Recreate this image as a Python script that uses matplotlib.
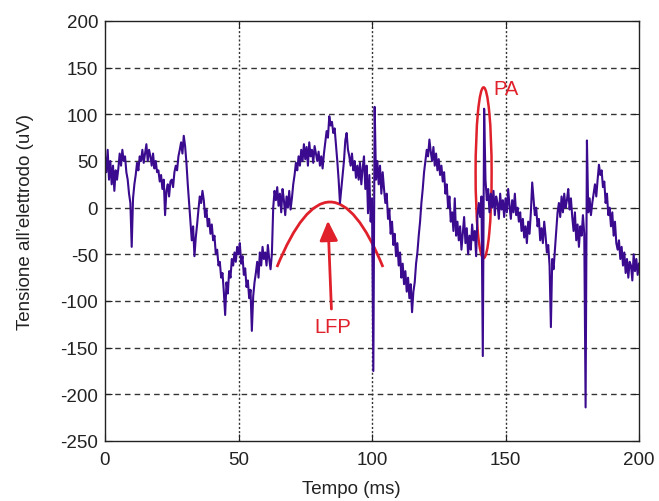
import matplotlib as mpl
mpl.use('Agg')
import numpy as np
import matplotlib.pyplot as plt
from matplotlib.path import Path
from matplotlib.patches import PathPatch, Ellipse

# signal, one row = 5 ms, samples every 0.5 ms
signal_uv = [
    55, 38, 62, 30, 50, 25, 45, 18, 40, 30,
    42, 58, 45, 62, 50, 55, 38, 30, 15, 5,
    -42, 10, 25, 35, 48, 40, 55, 50, 62, 48,
    58, 68, 50, 62, 55, 45, 58, 42, 50, 38,
    40, 28, 35, 20, 30, -8, 18, 25, 12, 28,
    30, 22, 38, 45, 40, 55, 62, 70, 58, 77,
    66, 48, 25, 5, -15, -35, -20, -52, -32, -18,
    -2, 12, 5, 18, 8, -10, -2, -20, -12, -28,
    -18, -35, -30, -50, -45, -62, -58, -75, -70, -90,
    -115, -80, -92, -68, -75, -55, -62, -48, -58, -42,
    -50, -38, -60, -52, -72, -65, -85, -78, -97, -88,
    -132, -95, -80, -70, -58, -75, -48, -62, -42, -55,
    -48, -62, -40, -55, -66, -50, 0, 18, 8, 22,
    2, 15, -5, 20, 8, -8, 12, 0, 18, -2,
    10, 25, 35, 48, 40, 55, 45, 62, 50, 68,
    52, 65, 45, 70, 55, 62, 48, 66, 58, 50,
    60, 45, 55, 42, 58, 70, 82, 75, 98, 88,
    92, 80, 85, 68, 50, 30, 5, 20, 35, 50,
    72, 80, 62, 55, 45, 58, 40, 50, 32, 45,
    30, 48, 25, 42, 55, 20, 45, -6, 35, -15,
    10, -175, 108, 30, 50, 25, 45, 15, 38, 20,
    5, 15, -12, -2, -28, -15, -40, -28, -52, -38,
    -62, -48, -75, -60, -82, -68, -90, -75, -97, -82,
    -112, -90, -80, -60, -48, -30, -15, 5, 20, 38,
    50, 62, 55, 73, 60, 50, 65, 45, 58, 40,
    52, 35, 45, 28, 38, 15, 25, 0, 12, -15,
    -5, -25, 10, -30, -15, -35, -20, -45, -28, -10,
    -38, -22, -50, -30, -45, -18, -35, -25, -52, -8,
    5, -10, 12, -159, 106, 30, 8, 20, -5, 15,
    0, 18, -8, 12, 5, -12, 15, -2, 8, -10,
    10, -5, 20, 2, -12, 8, -5, 15, -8, 0,
    -15, -5, -25, -12, -32, -20, -38, -15, -28, -5,
    27, 10, -8, 0, -20, -12, -35, -22, -38, -15,
    -30, -48, -40, -62, -128, -55, -66, -45, -25, -5,
    5, -10, 12, -5, 15, 0, 8, 20, -2, 10,
    -10, -25, -5, -35, -18, -42, -20, -30, -8, -28,
    -214, 72, -5, 10, -8, 5, 15, 25, 12, 30,
    46, 35, 40, 22, 28, 5, 15, -8, 0, -20,
    -5, -30, -15, -38, -45, -35, -55, -42, -62, -48,
    -70, -55, -75, -58, -62, -78, -50, -68, -55, -72,
    -60,
]
time_ms = np.arange(len(signal_uv)) * 0.5

x_ticks = [0, 50, 100, 150, 200]
y_ticks = [-250, -200, -150, -100, -50, 0, 50, 100, 150, 200]

# red annotations (data coords)
lfp_arc = [(64.4, -63.6), (84.3, 75.8), (104.1, -63.6)]
lfp_arrow = [(84.8, -108.6), (83.5, -14.0)]
pa_center = (141.8, 37.4)

plt.rcParams['font.family'] = ['Liberation Sans', 'DejaVu Sans']
plt.rcParams['axes.unicode_minus'] = False

fig = plt.figure(figsize=(6.59, 5.02), dpi=100)
ax = fig.add_axes([105/659, 1-442/502, 534/659, 420/502])

ax.plot(time_ms, signal_uv, color='#3b0b8f', lw=1.5)

ax.set_xlim(0, 200)
ax.set_ylim(-250, 200)
ax.set_xticks(x_ticks)
ax.set_yticks(y_ticks)

for y in y_ticks[1:-1]:
    ax.axhline(y, color='#333333', lw=1.0, ls=(0, (4, 3)), zorder=0)
for x in x_ticks[1:-1]:
    ax.axvline(x, color='#333333', lw=1.0, ls=(0, (1.5, 1.5)), zorder=0)

ax.tick_params(direction='in', top=True, right=True, length=5,
               labelsize=13.5, colors='#222222', pad=5)
ax.tick_params(axis='x', pad=7)
for s in ax.spines.values():
    s.set_linewidth(1.0)
    s.set_color('#222222')

ax.set_xlabel('Tempo (ms)', fontsize=13.5, color='#222222')
ax.set_ylabel('Tensione all\u2019elettrodo (uV)', fontsize=13.5, color='#222222')
ax.xaxis.set_label_coords((351.5-105)/534, -0.093)
ax.yaxis.set_label_coords(-0.133, 0.524)

red = '#e0202a'
arc = Path(lfp_arc, [Path.MOVETO, Path.CURVE3, Path.CURVE3])
ax.add_patch(PathPatch(arc, fill=False, edgecolor=red, lw=2.0))
ax.annotate('', xy=lfp_arrow[1], xytext=lfp_arrow[0],
            arrowprops=dict(arrowstyle='-|>,head_length=1.2,head_width=0.55',
                            color=red, lw=2.0, shrinkA=0, shrinkB=0))
ax.text(85.4, -127.6, 'LFP', color=red, fontsize=14.5, ha='center', va='center')

ax.add_patch(Ellipse(pa_center, 6.0, 183, fill=False, edgecolor=red, lw=1.8))
ax.text(150.2, 128, 'PA', color=red, fontsize=14.5, ha='center', va='center')

plt.savefig('out.png', dpi=100)
